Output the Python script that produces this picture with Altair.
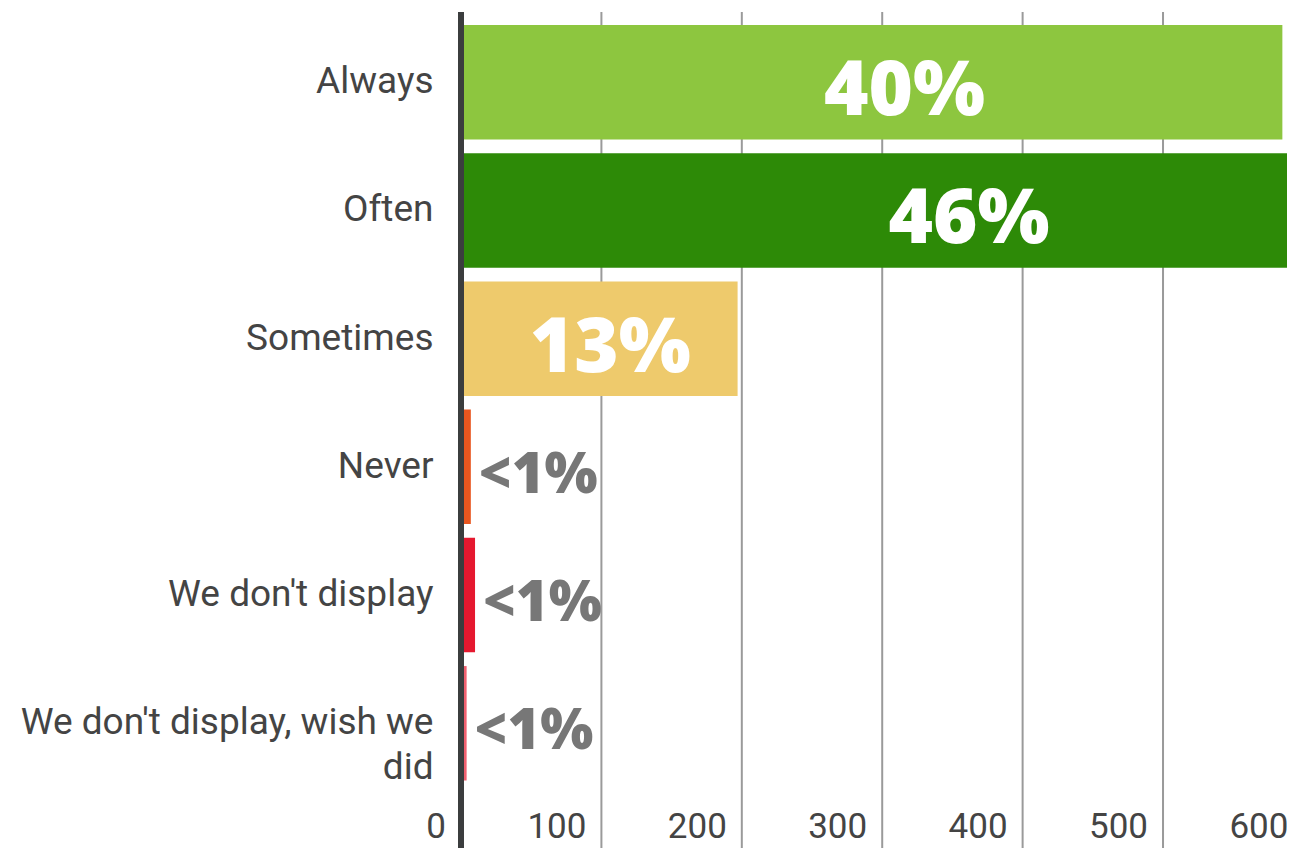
import altair as alt
import pandas as pd

categories = ["Always", "Often", "Sometimes", "Never", "We don't display",
              "We don't display, wish we did"]
counts = [585, 670, 197, 7, 10, 4]
pct_labels = ["40%", "46%", "13%", "<1%", "<1%", "<1%"]
colors = ["#8DC63F", "#2D8A07", "#EECA6C", "#E8561F", "#E5182F", "#F0606F"]
tick_values = [0, 100, 200, 300, 400, 500, 600]
tick_labels = ["0", "100", "200", "300", "400", "500", "600"]

df = pd.DataFrame({"category": categories, "count": counts, "label": pct_labels})
ticks = pd.DataFrame({"v": tick_values, "t": tick_labels})

xscale = alt.Scale(domain=[0, 588.3], nice=False, zero=True)
yenc = alt.Y(
    "category:N",
    sort=categories,
    scale=alt.Scale(paddingInner=0.107, paddingOuter=0.101),
    axis=alt.Axis(
        title=None, domain=False, ticks=False, tickSize=0, labelPadding=28,
        labelFontSize=37, labelFont="Roboto", labelColor="#444444",
        labelLineHeight=45, labelLimit=0,
        labelExpr="indexof(datum.label, 'wish') >= 0 ? [slice(datum.label, 0, -4), 'did'] : datum.label",
    ),
)

grid = alt.Chart(ticks).transform_filter("datum.v > 0").mark_rule(
    color="#9a9a9a", strokeWidth=2
).encode(
    x=alt.X("v:Q", scale=xscale, axis=None),
    y=alt.value(0),
    y2=alt.value(860),
)

bars = alt.Chart(df).mark_bar(clip=True).encode(
    x=alt.X("count:Q", scale=xscale, axis=None),
    y=yenc,
    color=alt.Color("category:N", scale=alt.Scale(domain=categories, range=colors), legend=None),
)

axis_line = alt.Chart(ticks).transform_filter("datum.v == 0").mark_rule(
    color="#3b3d3e", strokeWidth=6
).encode(
    x=alt.X("v:Q", scale=xscale, axis=None),
    y=alt.value(0),
    y2=alt.value(860),
)

big = alt.Chart(df).transform_filter("datum.label != '<1%'").transform_calculate(
    pos="datum.count * 0.54"
).mark_text(
    font="Open Sans", fontWeight=800, fontSize=76, color="white",
    align="center", baseline="alphabetic", dy=33,
).encode(
    x=alt.X("pos:Q", scale=xscale, axis=None),
    y=alt.Y("category:N", sort=categories),
    text="label:N",
)

small = alt.Chart(df).transform_filter("datum.label == '<1%'").mark_text(
    font="Open Sans", fontWeight=800, fontSize=56, color="#777777",
    align="left", baseline="alphabetic", dx=8, dy=26,
).encode(
    x=alt.X("count:Q", scale=xscale, axis=None),
    y=alt.Y("category:N", sort=categories),
    text="label:N",
)

xlabels = alt.Chart(ticks).mark_text(
    font="Roboto", fontSize=35, color="#444444", align="right",
    baseline="alphabetic", dx=-15,
).encode(
    x=alt.X("v:Q", scale=xscale, axis=None),
    y=alt.value(826),
    text="t:N",
)

chart = alt.layer(grid, bars, axis_line, big, small, xlabels).properties(
    width=826,
    height=781.5,
    padding={"left": 453, "top": 4, "right": 0, "bottom": 54.5},
    autosize=alt.AutoSizeParams(type="none"),
).configure_view(stroke=None)

chart.save("out.html", embed_options={"renderer": "svg", "actions": False})
